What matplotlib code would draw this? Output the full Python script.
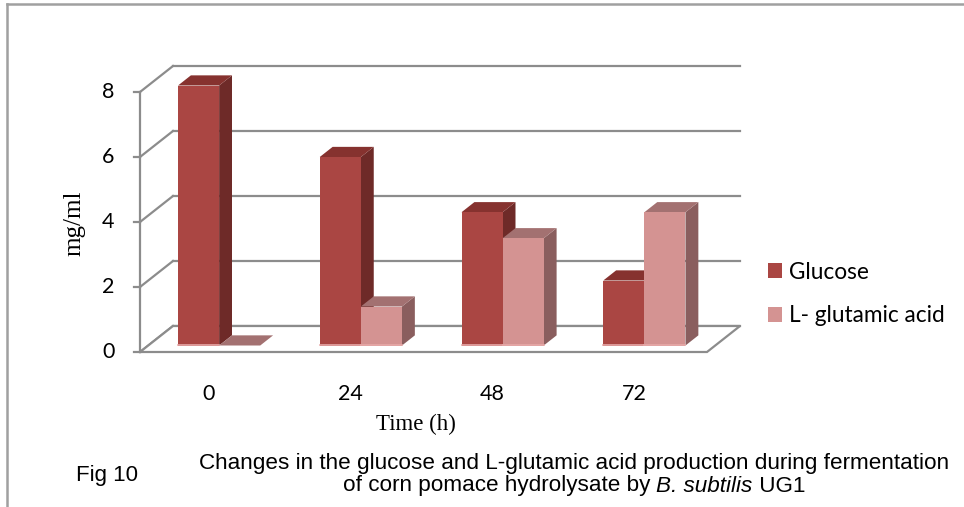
import matplotlib
matplotlib.use("Agg")
import matplotlib.pyplot as plt
from matplotlib.patches import Polygon, Patch
from matplotlib.lines import Line2D

hours = ["0", "24", "48", "72"]
glucose = [8.0, 5.8, 4.1, 2.0]
glutamic = [0.0, 1.2, 3.3, 4.1]
yticks = [0, 2, 4, 6, 8]

# colours of the pseudo-3D faces: (front, side, top)
glu_col = ("#AA4643", "#6E2A28", "#86322F")
lga_col = ("#D49392", "#8A5E5E", "#A37171")
grid_col = "#8C8C8C"

W, H = 964, 507
fig = plt.figure(figsize=(W / 100, H / 100), dpi=100)

# axes box = front plane of the floor, 0..8 on the value axis
x0, x1, y0, y1 = 140, 707, 352, 92
ax = fig.add_axes([x0 / W, 1 - y0 / H, (x1 - x0) / W, (y0 - y1) / H])
ax.set_xlim(-0.5, 3.5)
ax.set_ylim(0, 8)
ax.axis("off")

# depth of the plot box in data units (33 px right, 26 px up)
DX = 33 / ((x1 - x0) / 4)
DY = 26 / ((y0 - y1) / 8)
f0, f1 = 0.25, 0.64   # bar front / back as fraction of the depth
bw = 0.29

# back wall grid and left wall
for v in yticks:
    ax.plot([-0.5 + DX, 3.5 + DX], [v + DY, v + DY], color=grid_col, lw=1.6,
            clip_on=False, zorder=1)
    ax.plot([-0.5, -0.5 + DX], [v, v + DY], color=grid_col, lw=1.6,
            clip_on=False, zorder=1)
    ax.plot([-0.5 - 0.045, -0.5], [v, v], color=grid_col, lw=1.6,
            clip_on=False, zorder=3)
    ax.text(-0.5 - 0.18, v, str(v), ha="right", va="center", fontsize=15.5,
            family="Lato", color="black")
ax.plot([-0.5, -0.5], [0, 8], color=grid_col, lw=1.6, clip_on=False, zorder=3)

# floor
floor = Polygon([(-0.5, 0), (3.5, 0), (3.5 + DX, DY), (-0.5 + DX, DY)],
                closed=True, facecolor="white", edgecolor=grid_col, lw=1.6,
                clip_on=False, zorder=2)
ax.add_patch(floor)


def bar3d(xc, val, cols, z):
    left = xc - bw / 2 + f0 * DX
    right = left + bw
    base = f0 * DY
    top = base + val
    sdx, sdy = (f1 - f0) * DX, (f1 - f0) * DY
    ax.bar(left, val, width=bw, bottom=base, align="edge", color=cols[0],
           lw=0, zorder=z + 0.2, clip_on=False)
    ax.add_patch(Polygon([(right, base), (right + sdx, base + sdy),
                          (right + sdx, top + sdy), (right, top)],
                         facecolor=cols[1], lw=0, zorder=z, clip_on=False))
    ax.add_patch(Polygon([(left, top), (right, top), (right + sdx, top + sdy),
                          (left + sdx, top + sdy)],
                         facecolor=cols[2], lw=0, zorder=z + 0.1, clip_on=False))
    if val > 0:
        ax.plot([left, right], [base + 0.03, base + 0.03], color="#E7A9A8",
                lw=1.2, zorder=z + 0.3, clip_on=False)


for i in range(len(hours)):
    bar3d(i - bw / 2, glucose[i], glu_col, 10 + 2 * i)
    bar3d(i + bw / 2, glutamic[i], lga_col, 11 + 2 * i)
    ax.text(i - 0.015, -1.3, hours[i], ha="center", va="center", fontsize=15.5,
            family="Lato")

fig.text(74 / W, 1 - 223 / H, "mg/ml", rotation=90, ha="center", va="center",
         fontsize=18, family="Liberation Serif")
fig.text(416 / W, 1 - 424 / H, "Time (h)", ha="center", va="center",
         fontsize=16.5, family="Liberation Serif")

handles = [Patch(facecolor=glu_col[0]), Patch(facecolor=lga_col[0])]
fig.legend(handles, ["Glucose", "L- glutamic acid"], loc="center left",
           bbox_to_anchor=(748 / W, 1 - 294 / H), frameon=False,
           prop={"family": "Lato", "size": 16.3}, handlelength=0.62,
           handleheight=0.62, handletextpad=0.3, labelspacing=1.0)

# outer chart frame (left and top edges only)
fig.add_artist(Line2D([7 / W, 7 / W], [0, 1 - 4 / H], color="#A0A0A0", lw=1.8))
fig.add_artist(Line2D([7 / W, 1], [1 - 4 / H, 1 - 4 / H], color="#A0A0A0", lw=1.8))

cap = ["Liberation Sans"]
fs = 16.2
fig.text(107 / W, 1 - 476 / H, "Fig 10", ha="center", va="center",
         fontsize=16, family=cap)
fig.text(574 / W, 1 - 463 / H,
         "Changes in the glucose and L-glutamic acid production during fermentation",
         ha="center", va="center", fontsize=fs, family=cap)
t1 = fig.text(355 / W, 1 - 486 / H, "of corn pomace hydrolysate by ",
              ha="left", va="center", fontsize=fs, family=cap)
t2 = fig.text(0, 0, "B. subtilis", fontsize=fs, family=cap, style="italic",
              ha="left", va="center")
t3 = fig.text(0, 0, " UG1", fontsize=fs, family=cap, ha="left", va="center")

fig.canvas.draw()
r = fig.canvas.get_renderer()
e1 = t1.get_window_extent(r)
t2.set_position((e1.x1 / W, 1 - 486 / H))
e2 = t2.get_window_extent(r)
t3.set_position((e2.x1 / W, 1 - 486 / H))
e3 = t3.get_window_extent(r)
# centre the composed second line under the first
shift = (574 - (e1.x0 + e3.x1) / 2) / W
for t in (t1, t2, t3):
    px, py = t.get_position()
    t.set_position((px + shift, py))

fig.savefig("out.png", dpi=100)
